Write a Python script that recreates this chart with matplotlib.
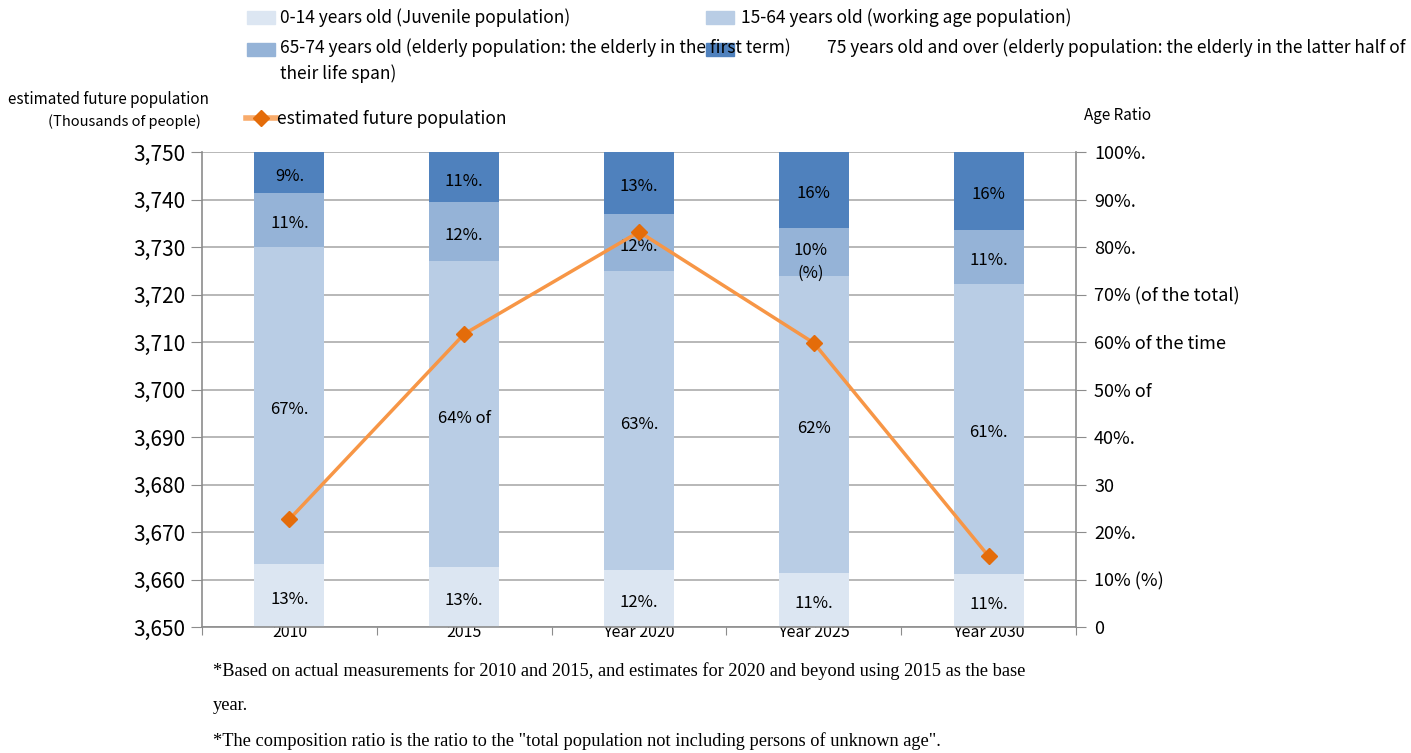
import matplotlib
matplotlib.use("Agg")
import matplotlib.pyplot as plt
import numpy as np
from matplotlib.patches import Rectangle
from matplotlib.lines import Line2D
from matplotlib.ticker import FuncFormatter

plt.rcParams["font.family"] = ["Noto Sans CJK JP", "DejaVu Sans"]

# 年次と人口推計(千人)
years = ["2010", "2015", "Year 2020", "Year 2025", "Year 2030"]
population = [3672.7, 3711.7, 3733.2, 3709.8, 3664.9]

# 年齢構成比(%)
juvenile = [13.3, 12.6, 12.0, 11.4, 11.2]
working = [66.7, 64.4, 62.9, 62.4, 61.0]
elderly_early = [11.4, 12.4, 12.0, 10.3, 11.4]
elderly_late = [8.6, 10.6, 13.1, 15.9, 16.4]

# ラベルの末尾表記
juvenile_sfx = ["%.", "%.", "%.", "%.", "%."]
working_sfx = ["%.", "% of", "%.", "%", "%."]
early_sfx = ["%.", "%.", "%.", "%\n(%)", "%."]
late_sfx = ["%.", "%.", "%.", "%", "%"]

ratio_ticks = ["0", "10% (%)", "20%.", "30", "40%.", "50% of", "60% of the time",
               "70% (of the total)", "80%.", "90%.", "100%."]

series = [
    ("0-14 years old (Juvenile population)", juvenile, juvenile_sfx, "#DCE6F2"),
    ("15-64 years old (working age population)", working, working_sfx, "#B9CDE5"),
    ("65-74 years old (elderly population: the elderly in the first term)", elderly_early, early_sfx, "#95B3D7"),
    ("75 years old and over", elderly_late, late_sfx, "#4F81BD"),
]

fig = plt.figure(figsize=(14.11, 7.53), dpi=100)
ax = fig.add_axes([0.1432, 0.1673, 0.6194, 0.6308])
ax2 = ax.twinx()

x = np.arange(len(years))
grid_c = "#ababab"
spine_c = "#8c8c8c"

# 積み上げ棒(右軸:構成比)
bottom = np.zeros(len(years))
for name, vals, sfx, col in series:
    vals = np.array(vals)
    ax.bar(x, vals, width=0.4, bottom=bottom, color=col, zorder=2)
    for i, v in enumerate(vals):
        lab = f"{v:.0f}{sfx[i]}"
        yc = bottom[i] + v / 2
        if "\n" in lab:
            ax.text(x[i] - 0.02, yc + 2.2, lab, ha="center", va="top", fontsize=12,
                    linespacing=1.5, zorder=3)
        else:
            ax.text(x[i], yc - 0.8, lab, ha="center", va="center", fontsize=12, zorder=3)
    bottom += vals

ax.set_xlim(-0.5, len(years) - 0.5)
ax.set_ylim(0, 100)
ax.set_yticks(np.arange(0, 101, 10))
ax.yaxis.grid(True, color=grid_c, linewidth=1.2, zorder=0)
ax.set_axisbelow(True)
ax.yaxis.tick_right()
ax.yaxis.set_label_position("right")
ax.set_yticklabels(ratio_ticks, fontsize=13)
ax.tick_params(axis="y", direction="out", length=7, color=spine_c, pad=6)

# x軸:区切り目盛と年ラベル
ax.set_xticks(np.arange(-0.5, len(years), 1.0))
ax.set_xticklabels([])
ax.set_xticks(x, minor=True)
ax.set_xticklabels(years, minor=True, fontsize=11.5)
ax.tick_params(axis="x", which="major", direction="out", length=6, color=spine_c)
ax.tick_params(axis="x", which="minor", length=0, pad=-2)

for s in ["top", "left"]:
    ax.spines[s].set_visible(False)
for s in ["bottom", "right"]:
    ax.spines[s].set_color(spine_c)
    ax.spines[s].set_linewidth(1.2)

# 折れ線(左軸:人口推計)
ax2.plot(x, population, color="#F79646", linewidth=2.5, marker="D", markersize=8,
         markerfacecolor="#E46C0A", markeredgecolor="#E46C0A", zorder=5)
ax2.set_ylim(3650, 3750)
ax2.set_yticks(np.arange(3650, 3751, 10))
ax2.yaxis.set_major_formatter(FuncFormatter(lambda v, p: f"{v:,.0f}"))
ax2.yaxis.tick_left()
ax2.tick_params(axis="y", direction="out", length=8, color=spine_c, labelsize=15, pad=4)
for s in ["top", "right", "bottom"]:
    ax2.spines[s].set_visible(False)
ax2.spines["left"].set_color(spine_c)
ax2.spines["left"].set_linewidth(1.2)

# 軸タイトル
W, H = 1411, 753
def fx(px):
    return px / W
def fy(py):
    return 1 - py / H

fig.text(fx(8), fy(100), "estimated future population", fontsize=11, va="center", ha="left")
fig.text(fx(201), fy(122), "(Thousands of people)", fontsize=10.5, va="center", ha="right")
fig.text(fx(1084), fy(116), "Age Ratio", fontsize=11, va="center", ha="left")

# 凡例
leg_font = 12.5
def legend_patch(px, py, col):
    fig.add_artist(Rectangle((fx(px), fy(py + 6)), 28 / W, 13 / H, transform=fig.transFigure,
                             color=col, zorder=1))

legend_patch(247, 18, series[0][3])
fig.text(fx(280), fy(18), series[0][0], fontsize=leg_font, va="center")
legend_patch(706, 18, series[1][3])
fig.text(fx(741), fy(18), series[1][0], fontsize=leg_font, va="center")
legend_patch(247, 50, series[2][3])
fig.text(fx(280), fy(48), series[2][0], fontsize=leg_font, va="center")
legend_patch(706, 50, series[3][3])
fig.text(fx(827), fy(48), "75 years old and over (elderly population: the elderly in the latter half of",
         fontsize=leg_font, va="center")
fig.text(fx(280), fy(74), "their life span)", fontsize=leg_font, va="center")

fig.add_artist(Line2D([fx(246), fx(276)], [fy(118), fy(118)], transform=fig.transFigure,
                      color="#F79646", linewidth=4, alpha=0.8))
fig.add_artist(Line2D([fx(261)], [fy(118)], transform=fig.transFigure, marker="D",
                      markersize=8, color="#E46C0A", linestyle="none"))
fig.text(fx(277), fy(119), "estimated future population", fontsize=leg_font, va="center")

# 注記
note_font = dict(fontsize=13.2, family=["Liberation Serif", "DejaVu Serif"], va="center")
fig.text(fx(213), fy(671), "*Based on actual measurements for 2010 and 2015, and estimates for 2020 "
         "and beyond using 2015 as the base", **note_font)
fig.text(fx(213), fy(706), "year.", **note_font)
fig.text(fx(213), fy(741), "*The composition ratio is the ratio to the \"total population not including "
         "persons of unknown age\".", **note_font)

fig.savefig("out.png", dpi=100)
